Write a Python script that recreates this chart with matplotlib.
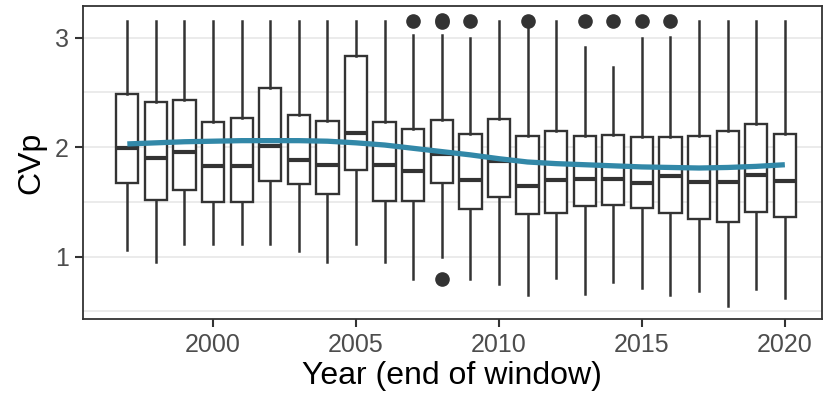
import matplotlib
matplotlib.use('Agg')
import matplotlib.pyplot as plt
import numpy as np

plt.rcParams['font.family'] = ['Liberation Sans', 'DejaVu Sans']

years = np.arange(1997, 2021)
q1 = [1.67, 1.52, 1.61, 1.50, 1.50, 1.695, 1.66, 1.57, 1.79, 1.51, 1.51, 1.67,
      1.435, 1.548, 1.39, 1.40, 1.459, 1.468, 1.444, 1.395, 1.343, 1.32, 1.41, 1.364]
med = [1.995, 1.90, 1.96, 1.826, 1.826, 2.01, 1.887, 1.84, 2.128, 1.835, 1.786, 1.94,
       1.70, 1.87, 1.65, 1.70, 1.71, 1.71, 1.676, 1.74, 1.68, 1.68, 1.747, 1.695]
q3 = [2.49, 2.41, 2.435, 2.23, 2.266, 2.54, 2.297, 2.24, 2.83, 2.23, 2.168, 2.245,
      2.117, 2.254, 2.10, 2.147, 2.107, 2.113, 2.09, 2.09, 2.107, 2.147, 2.208, 2.117]
whislo = [1.06, 0.954, 1.114, 1.114, 1.114, 1.114, 1.052, 0.954, 1.117, 0.954, 0.80, 0.997,
          0.80, 0.752, 0.649, 0.807, 0.655, 0.77, 0.716, 0.649, 0.685, 0.548, 0.707, 0.624]
whishi = [3.156, 3.156, 3.156, 3.156, 3.156, 3.156, 3.156, 3.156, 3.156, 3.156, 3.025, 3.025,
          2.995, 3.156, 3.12, 3.156, 2.917, 2.734, 2.995, 3.01, 3.156, 3.156, 3.156, 3.156]
outliers = {2007: [3.156], 2008: [3.16, 3.14, 0.80], 2009: [3.156], 2011: [3.156],
            2013: [3.156], 2014: [3.156], 2015: [3.156], 2016: [3.156]}

# loess-style smooth through the yearly values
smooth = [2.03, 2.04, 2.05, 2.055, 2.06, 2.06, 2.06, 2.055, 2.04, 2.02, 1.99, 1.96,
          1.93, 1.895, 1.865, 1.85, 1.84, 1.83, 1.82, 1.815, 1.81, 1.815, 1.825, 1.84]

dark = '#333333'
fig = plt.figure(figsize=(8.23, 4.03), dpi=100)
ax = fig.add_axes([0.1005, 0.2077, 0.8983, 0.7774])

stats = []
for i, yr in enumerate(years):
    stats.append(dict(med=med[i], q1=q1[i], q3=q3[i], whislo=whislo[i], whishi=whishi[i],
                      fliers=outliers.get(int(yr), [])))

ax.bxp(stats, positions=years, widths=0.78, showcaps=False, patch_artist=True,
       boxprops=dict(facecolor='white', edgecolor=dark, linewidth=1.7),
       whiskerprops=dict(color=dark, linewidth=1.8),
       medianprops=dict(color=dark, linewidth=3.0, solid_capstyle='butt'),
       flierprops=dict(marker='o', markerfacecolor=dark, markeredgecolor=dark, markersize=9.5),
       zorder=2)

ax.plot(years, smooth, color='#3288a8', linewidth=3.8, zorder=3, solid_capstyle='butt')

ax.set_xlim(1995.44, 2021.3)
ax.set_ylim(0.428, 3.29)
ax.set_xticks([2000, 2005, 2010, 2015, 2020])
ax.set_xticklabels(['2000', '2005', '2010', '2015', '2020'])
ax.set_yticks([1, 2, 3])
ax.set_yticks([0.5, 1.5, 2.5], minor=True)
ax.grid(axis='y', which='both', color='#EBEBEB', linewidth=1.4, zorder=0)
ax.set_axisbelow(True)
ax.tick_params(axis='both', which='major', labelsize=18, labelcolor='#4D4D4D',
               color=dark, length=6, width=1.5, pad=4)
ax.tick_params(axis='y', which='minor', length=0)
for s in ax.spines.values():
    s.set_color(dark)
    s.set_linewidth(1.3)

ax.set_xlabel('Year (end of window)', fontsize=23, labelpad=3)
ax.set_ylabel('CVp', fontsize=23, labelpad=6)

fig.savefig('out.png', dpi=100)
